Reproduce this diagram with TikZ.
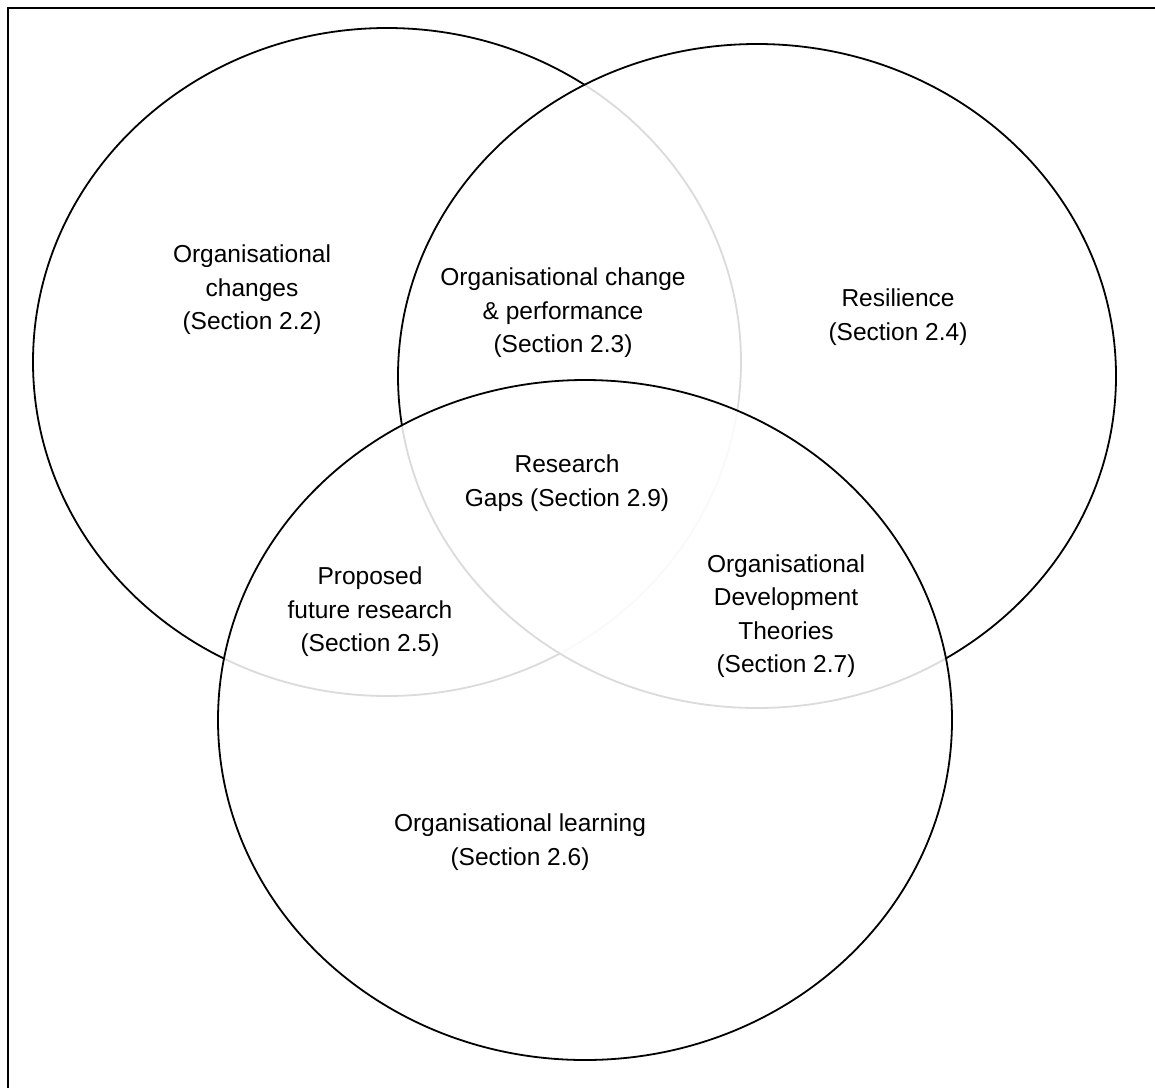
\documentclass[tikz,border=0pt]{standalone}
\usepackage{fontspec}
\setmainfont{Liberation Sans}
\begin{document}
\begin{tikzpicture}[x=1pt,y=-1pt,
  setshape/.style={draw=black, line width=1.8pt, fill=white, fill opacity=0.86},
  lbl/.style={align=center, font=\fontsize{24.5}{33.5}\selectfont, text=black, inner sep=0pt}]
\useasboundingbox (0,0) rectangle (1155,1087);
% page frame (only top and left edges fall inside the picture)
\draw[line width=2.5pt] (8,1095) -- (8,8) -- (1165,8);
% the three sets, each laid over the previous one
\path[setshape] (387,362) ellipse [x radius=354pt, y radius=334pt];
\path[setshape] (757,376) ellipse [x radius=359pt, y radius=332pt];
\path[setshape] (585,720) ellipse [x radius=367pt, y radius=340pt];
% labels
\node[lbl] (chg)  at (252,290) {Organisational\\changes\\(Section 2.2)};
\node[lbl] (perf) at (563,313) {Organisational change\\\& performance\\(Section 2.3)};
\node[lbl] (res)  at (898,317) {Resilience\\(Section 2.4)};
\node[lbl] (gaps) at (567,483) {Research\\Gaps (Section 2.9)};
\node[lbl] (fut)  at (370,612) {Proposed\\future research\\(Section 2.5)};
\node[lbl] (odt)  at (786,616) {Organisational\\Development\\Theories\\(Section 2.7)};
\node[lbl] (lrn)  at (520,842) {Organisational learning\\(Section 2.6)};
\end{tikzpicture}
\end{document}
